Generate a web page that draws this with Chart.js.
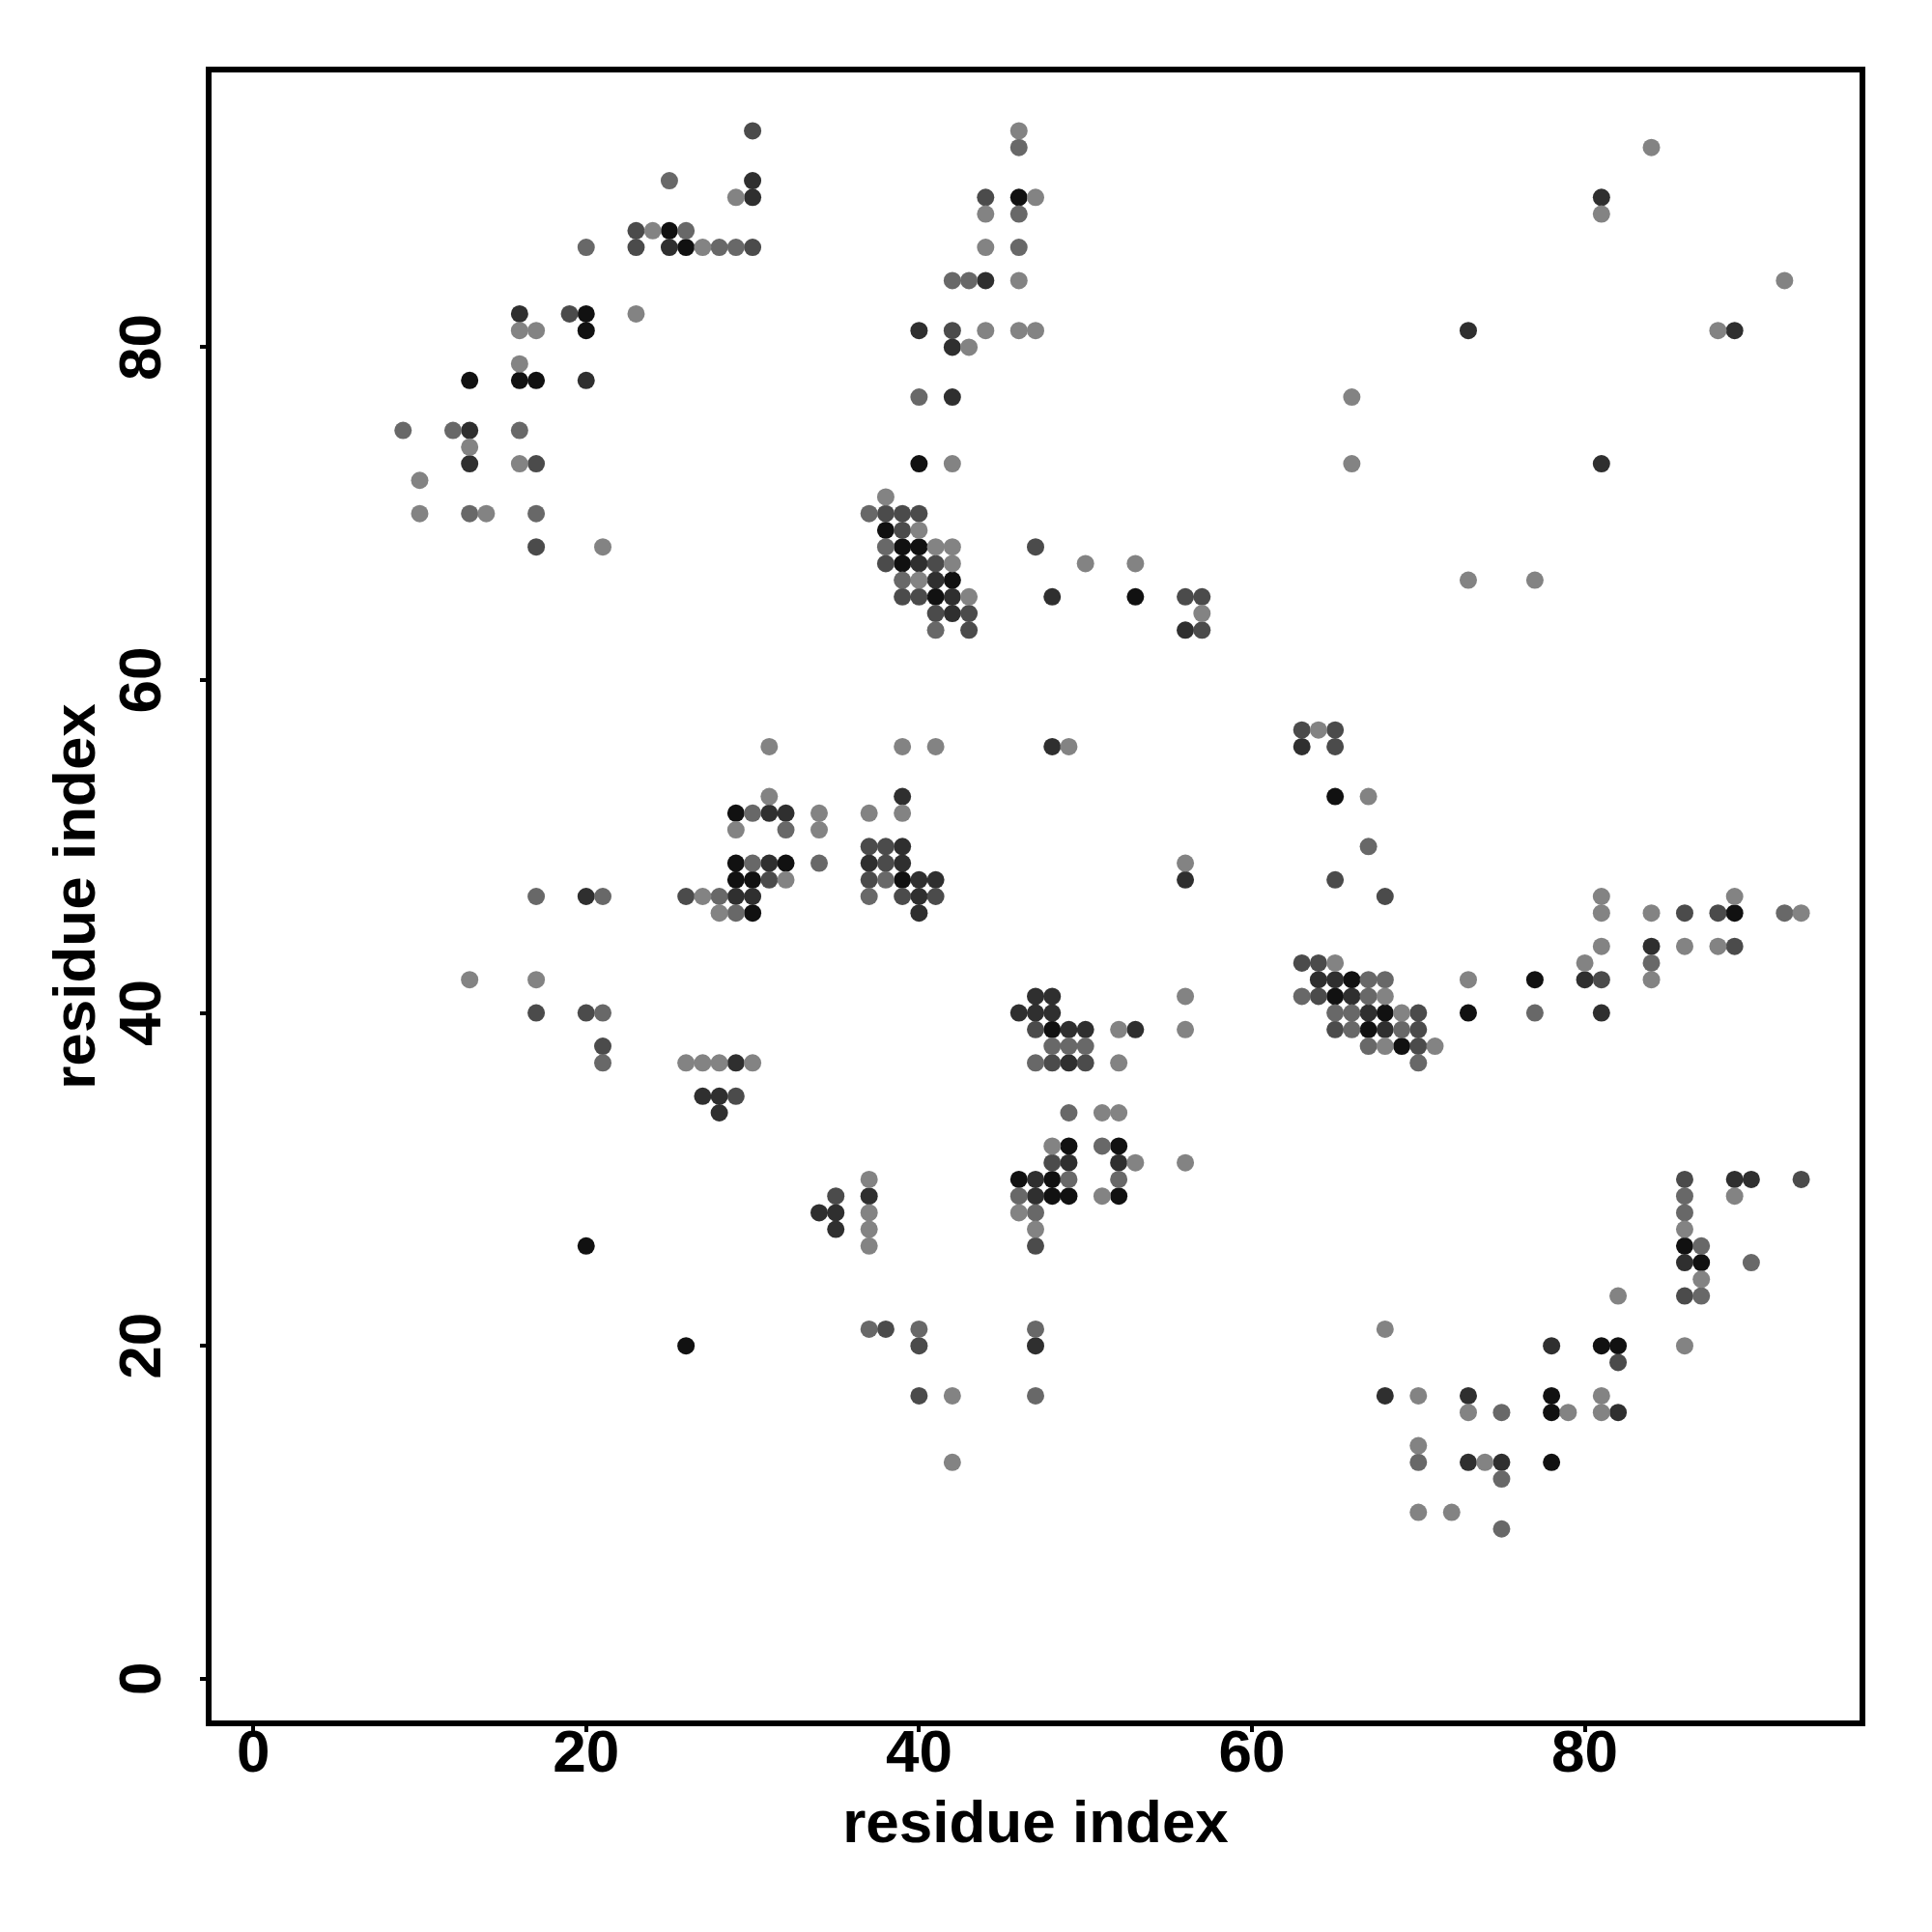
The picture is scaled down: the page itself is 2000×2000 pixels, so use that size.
<!DOCTYPE html>
<html>
<head>
<meta charset="utf-8">
<script src="https://cdn.jsdelivr.net/npm/chart.js@4/dist/chart.umd.min.js"></script>
<style>
html,body{margin:0;padding:0;background:#ffffff;}
#wrap{width:2000px;height:2000px;}
</style>
</head>
<body>
<div id="wrap"><canvas id="c" width="2000" height="2000"></canvas></div>
<script>
// ---- axis setup ----
const xTickValues = [0, 20, 40, 60, 80];
const yTickValues = [0, 20, 40, 60, 80];
const axisMin = -2.68;
const axisMax = 96.68;
const xTitle = 'residue index';
const yTitle = 'residue index';

// ---- contacts [i, j], grouped by contact strength (1 = weakest, 5 = strongest) ----
const contactsLevel1 = [
  [10,72],[10,70],[13,74],[14,70],[16,81],[16,79],[16,73],[17,81],[21,68],[23,82],[24,87],[27,86],[29,89],
  [46,93],[47,89],[44,88],[44,86],[46,84],[44,81],[46,81],[47,81],[43,80],[42,73],[38,71],[40,69],[41,68],
  [42,68],[42,67],[50,67],[53,67],[40,66],[43,65],[57,64],[84,92],[81,88],[92,84],[88,81],[66,77],[66,73],
  [73,66],[77,66],[31,56],[31,53],[34,52],[29,51],[34,51],[32,48],[27,47],[28,46],[13,42],[17,42],[26,37],
  [27,37],[28,37],[30,37],[39,56],[41,56],[49,56],[37,52],[39,52],[56,49],[56,41],[52,39],[56,39],[52,37],
  [51,34],[52,34],[48,32],[53,31],[56,31],[51,29],[46,28],[47,27],[37,30],[37,28],[37,27],[37,26],[42,17],
  [42,13],[64,57],[67,53],[81,47],[89,47],[81,46],[84,46],[93,46],[81,44],[86,44],[88,44],[65,43],[80,43],
  [73,42],[84,42],[68,41],[69,40],[68,38],[71,38],[89,29],[86,27],[87,24],[82,23],[68,21],[86,20],[70,17],
  [81,17],[73,16],[79,16],[81,16],[70,14],[74,13],[70,10],[72,10]
];
const contactsLevel2 = [
  [9,75],[12,75],[13,70],[16,75],[17,70],[20,86],[25,90],[26,87],[28,86],[29,86],[46,92],[46,88],[46,86],
  [42,84],[43,84],[40,77],[37,70],[38,68],[39,66],[41,63],[30,52],[32,51],[30,49],[34,49],[17,47],[21,47],
  [28,47],[29,46],[21,40],[21,37],[38,48],[37,47],[48,38],[49,38],[50,38],[47,37],[49,34],[51,32],[49,30],
  [52,30],[46,29],[47,28],[37,21],[40,21],[47,21],[47,17],[67,50],[92,46],[84,43],[67,42],[68,42],[63,41],
  [67,41],[65,40],[66,40],[77,40],[66,39],[69,39],[67,38],[70,37],[86,29],[86,28],[87,26],[90,25],[87,23],
  [75,16],[70,13],[75,12],[75,9]
];
const contactsLevel3 = [
  [17,73],[17,68],[19,82],[23,87],[23,86],[30,86],[30,93],[44,89],[42,81],[38,70],[39,70],[40,70],[39,69],
  [47,68],[38,67],[41,67],[39,65],[40,65],[56,65],[57,65],[41,64],[43,64],[43,63],[57,63],[31,48],[26,47],
  [17,40],[20,40],[21,38],[29,35],[37,50],[38,50],[38,49],[37,48],[39,47],[41,47],[47,39],[48,37],[50,37],
  [48,31],[47,26],[35,29],[38,21],[40,20],[40,17],[63,57],[65,57],[65,56],[65,48],[68,47],[86,46],[88,46],
  [89,44],[63,43],[64,43],[81,42],[64,41],[70,40],[65,39],[70,39],[70,38],[86,30],[93,30],[86,23],[82,19]
];
const contactsLevel4 = [
  [13,75],[13,73],[16,82],[20,78],[25,86],[30,90],[30,89],[44,84],[40,81],[42,80],[42,77],[40,67],[41,66],
  [42,65],[48,65],[42,64],[56,63],[81,89],[73,81],[89,81],[81,73],[31,52],[32,52],[31,49],[20,47],[29,47],
  [30,47],[29,37],[27,35],[28,35],[28,34],[48,56],[39,53],[39,50],[37,49],[39,49],[40,48],[41,48],[40,47],
  [40,46],[56,48],[47,41],[48,41],[46,40],[47,40],[48,40],[49,39],[50,39],[53,39],[49,37],[49,31],[52,31],
  [47,30],[47,29],[34,28],[35,28],[35,27],[37,29],[47,20],[63,56],[84,44],[64,42],[65,42],[80,42],[66,41],
  [67,40],[81,40],[68,39],[89,30],[90,30],[86,25],[78,20],[68,17],[73,17],[82,16],[73,13],[75,13]
];
const contactsLevel5 = [
  [13,78],[16,78],[17,78],[20,82],[20,81],[25,87],[26,86],[46,89],[40,73],[38,69],[39,68],[40,68],[39,67],
  [42,66],[41,65],[53,65],[29,52],[29,49],[32,49],[29,48],[30,48],[30,46],[39,48],[48,39],[49,32],[52,32],
  [46,30],[48,30],[48,29],[49,29],[52,29],[20,26],[26,20],[65,53],[89,46],[66,42],[77,42],[65,41],[68,40],
  [73,40],[67,39],[69,38],[86,26],[87,25],[81,20],[82,20],[78,17],[78,16],[78,13]
];

const levelSeries = [contactsLevel1, contactsLevel2, contactsLevel3, contactsLevel4, contactsLevel5];
const levelColors = ['#838383', '#686868', '#4b4b4b', '#2f2f2f', '#111111'];

const fontFamily = '"Liberation Sans", Arial, Helvetica, sans-serif';

const boxPlugin = {
  id: 'plotBox',
  afterDatasetsDraw(chart) {
    const {ctx, chartArea: a} = chart;
    ctx.save();
    ctx.lineWidth = 6;
    ctx.strokeStyle = '#000000';
    ctx.strokeRect(a.left, a.top, a.right - a.left, a.bottom - a.top);
    ctx.restore();
  }
};

new Chart(document.getElementById('c'), {
  type: 'scatter',
  data: {
    datasets: levelSeries.map((pts, i) => ({
      label: 'level ' + (i + 1),
      data: pts.map(p => ({x: p[0], y: p[1]})),
      backgroundColor: levelColors[i],
      borderWidth: 0,
      pointRadius: 9,
      pointHoverRadius: 9
    }))
  },
  options: {
    responsive: false,
    devicePixelRatio: 1,
    animation: false,
    events: [],
    layout: {padding: {top: 72, right: 72, left: 0, bottom: 0}},
    plugins: {legend: {display: false}, tooltip: {enabled: false}},
    scales: {
      x: {
        type: 'linear',
        position: 'bottom',
        min: axisMin,
        max: axisMax,
        afterBuildTicks: s => { s.ticks = xTickValues.map(v => ({value: v})); },
        afterFit: s => { s.height = 216; },
        border: {display: false},
        grid: {drawOnChartArea: false, drawTicks: true, tickLength: 9, color: '#000000', lineWidth: 4},
        ticks: {
          autoSkip: false, minRotation: 0, maxRotation: 0, padding: -7, color: '#000000',
          font: {family: fontFamily, weight: 'bold', size: 62, lineHeight: 1}
        },
        title: {
          display: true, text: xTitle, color: '#000000',
          font: {family: fontFamily, weight: 'bold', size: 62, lineHeight: 1},
          padding: {top: 0, bottom: 79}
        }
      },
      y: {
        type: 'linear',
        position: 'left',
        min: axisMin,
        max: axisMax,
        afterBuildTicks: s => { s.ticks = yTickValues.map(v => ({value: v})); },
        afterFit: s => { s.width = 216; },
        border: {display: false},
        grid: {drawOnChartArea: false, drawTicks: true, tickLength: 9, color: '#000000', lineWidth: 4},
        ticks: {
          autoSkip: false, minRotation: 90, maxRotation: 90, crossAlign: 'center', padding: 24, color: '#000000',
          font: {family: fontFamily, weight: 'bold', size: 62, lineHeight: 1}
        },
        title: {
          display: true, text: yTitle, color: '#000000',
          font: {family: fontFamily, weight: 'bold', size: 62, lineHeight: 1},
          padding: {top: 50, bottom: 0}
        }
      }
    }
  },
  plugins: [boxPlugin]
});
</script>
</body>
</html>
